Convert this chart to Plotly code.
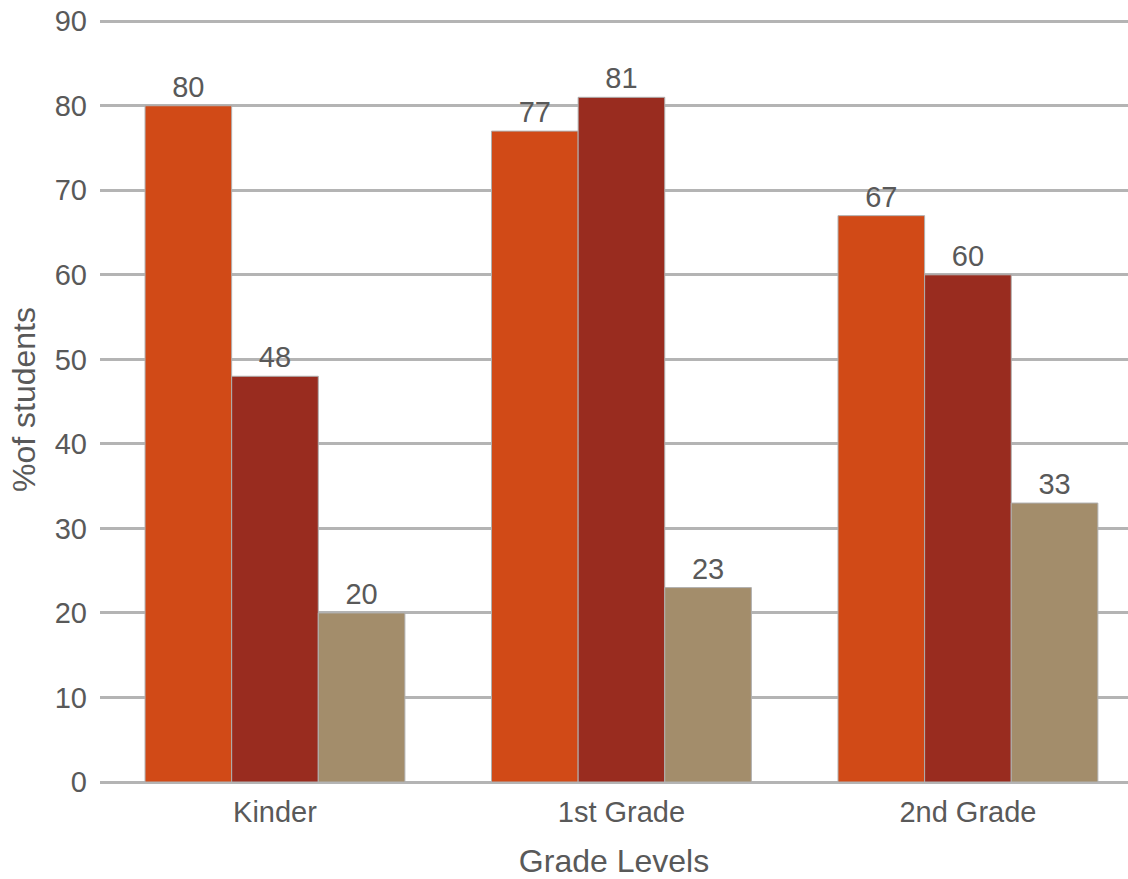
import plotly.graph_objects as go

categories = ["Kinder", "1st Grade", "2nd Grade"]
series_a = [80, 77, 67]
series_b = [48, 81, 60]
series_c = [20, 23, 33]
colors = ["#D14A17", "#992C1F", "#A38D6B"]
y_ticks = [0, 10, 20, 30, 40, 50, 60, 70, 80, 90]

font_family = "Liberation Sans, Arial, sans-serif"
text_color = "#595959"

fig = go.Figure()
for vals, col in zip([series_a, series_b, series_c], colors):
    fig.add_trace(go.Bar(
        x=categories, y=vals,
        marker=dict(color=col, line=dict(color="#B0B0B0", width=1)),
        text=[str(v) for v in vals], textposition="outside",
        textfont=dict(size=29, color=text_color, family=font_family),
        cliponaxis=False,
    ))

fig.update_layout(
    width=1128, height=879,
    margin=dict(l=100, r=0, t=17, b=97),
    barmode="group", bargap=0.25, bargroupgap=0,
    plot_bgcolor="white", paper_bgcolor="white",
    showlegend=False,
    font=dict(family=font_family, color=text_color, size=29),
)
fig.update_xaxes(
    range=[-0.505, 2.462], showgrid=False, showline=False, ticks="",
    tickfont=dict(size=29, color=text_color), ticklabelstandoff=10,
    title=dict(text="Grade Levels", font=dict(size=32, color=text_color), standoff=22),
    automargin=False,
)
fig.update_yaxes(
    range=[0, 90.5], tickvals=y_ticks, showgrid=True, gridcolor="#B4B4B4", gridwidth=2.5,
    zeroline=True, zerolinecolor="#B4B4B4", zerolinewidth=2.5, showline=False,
    tickfont=dict(size=29, color=text_color), ticks="", ticklabelstandoff=12,
    title=dict(text="%of students", font=dict(size=32, color=text_color), standoff=9),
    automargin=False,
)

fig.write_html("out.html")
